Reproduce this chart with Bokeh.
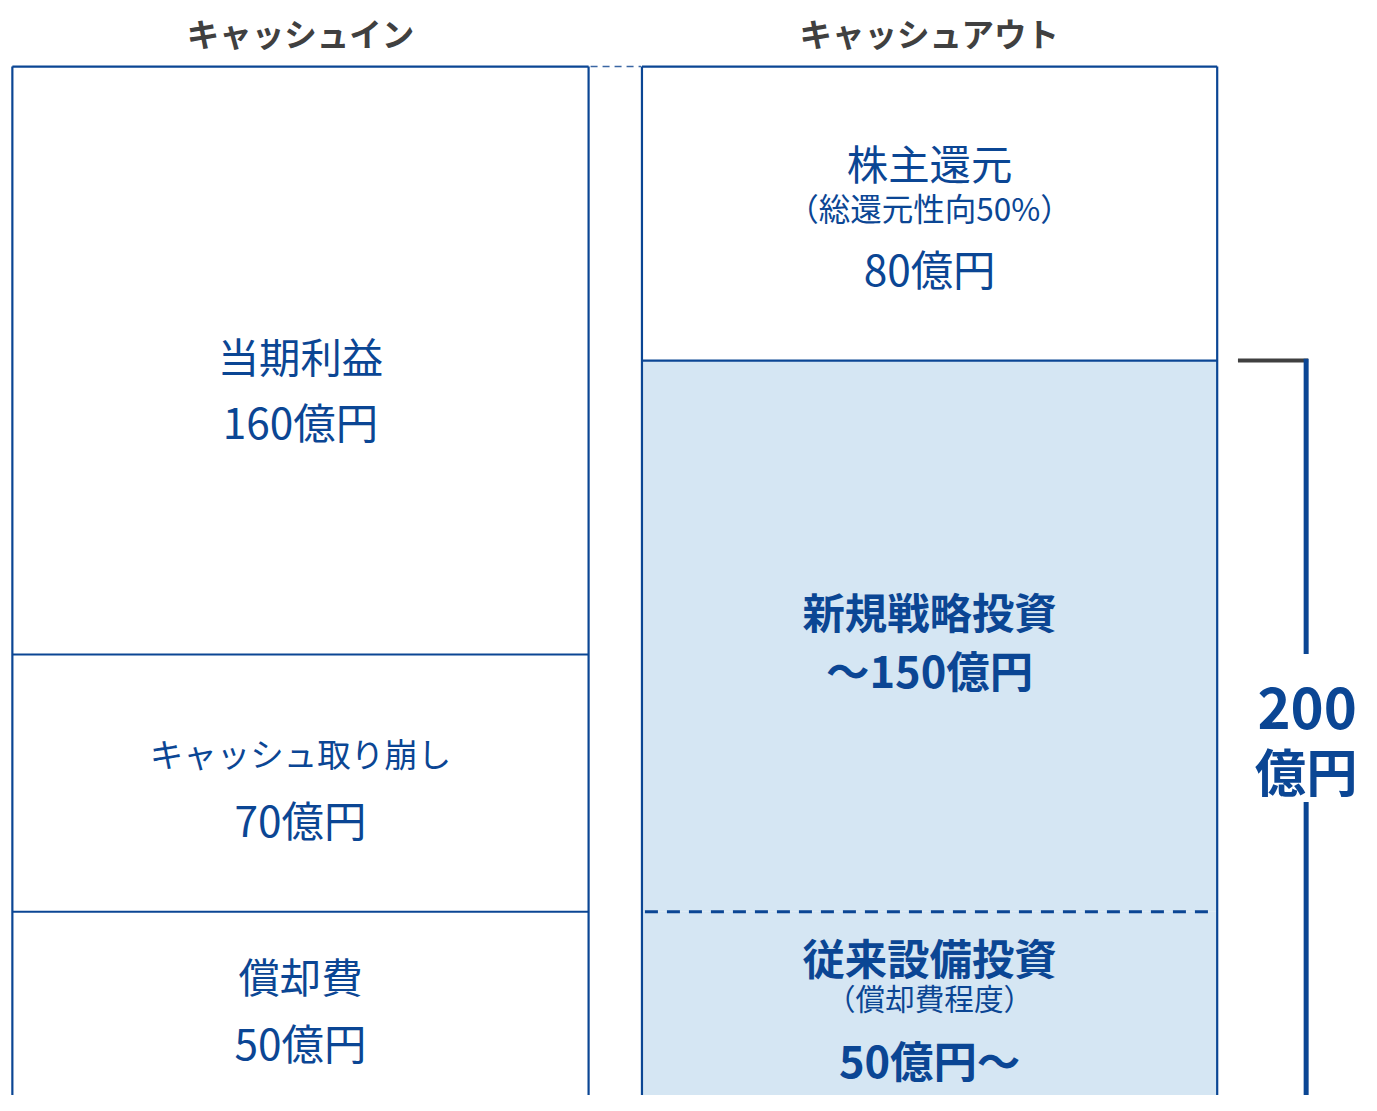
from bokeh.plotting import figure
from bokeh.models import Range1d
from bokeh.embed import file_html
from bokeh.resources import INLINE
from bokeh.core.properties import value

# ---- data ----
in_labels = ["当期利益", "キャッシュ取り崩し", "償却費"]
in_values = [160, 70, 50]
in_amounts = ["160億円", "70億円", "50億円"]

out_labels = ["株主還元", "新規戦略投資", "従来設備投資"]
out_notes = ["（総還元性向50%）", "", "（償却費程度）"]
out_values = [80, 150, 50]
out_amounts = ["80億円", "～150億円", "50億円～"]

headers = ["キャッシュイン", "キャッシュアウト"]
bracket_total = ["200", "億円"]

BLUE = "#0b4694"
FILL = "#d5e6f3"
GRAY = "#404040"
FONT = value("Noto Sans CJK JP")

W, H = 1361, 1095          # figure size (fits the window with its margins)
RW, RH = 1377, 1111        # reference canvas mapped onto the figure
k = H / RH                 # font scaling

def fs(px):
    return f"{px * k:.1f}px"

total = sum(in_values)
s = (RH - 67) / total      # reference pixels per unit
y_top = total + 67 / s

p = figure(width=W, height=H, output_backend="svg", toolbar_location=None,
           x_range=Range1d(0, RW), y_range=Range1d(0, y_top),
           min_border=0, outline_line_color=None)
p.axis.visible = False
p.grid.visible = False
p.background_fill_color = "white"

def py(off):
    """reference-pixel offset (down positive) -> data units"""
    return -off / s

LX0, LX1 = 12, 595
RX0, RX1 = 649, 1231
LC = (LX0 + LX1) / 2
RC = (RX0 + RX1) / 2

def stack(vals):
    tops, bots = [], []
    cur = sum(vals)
    for v in vals:
        tops.append(cur)
        bots.append(cur - v)
        cur -= v
    return tops, bots

lt, lb = stack(in_values)
rt, rb = stack(out_values)

# fills
p.quad(left=[LX0]*3, right=[LX1]*3, top=lt, bottom=lb, fill_color="white", line_color=None)
fills = ["white", FILL, FILL]
p.quad(left=[RX0]*3, right=[RX1]*3, top=rt, bottom=rb, fill_color=fills, line_color=None)

# borders
p.segment(x0=[LX0, LX1, RX0, RX1], y0=[0]*4, x1=[LX0, LX1, RX0, RX1],
          y1=[lt[0], lt[0], rt[0], rt[0]], line_color=BLUE, line_width=2.2)
p.segment(x0=[LX0]*3, y0=lt, x1=[LX1]*3, y1=lt, line_color=BLUE, line_width=2.2)
p.segment(x0=[RX0]*2, y0=rt[:2], x1=[RX1]*2, y1=rt[:2], line_color=BLUE, line_width=2.2)
p.segment(x0=[RX0 + 3], y0=[rt[2]], x1=[RX1 - 4], y1=[rt[2]], line_color=BLUE,
          line_width=3, line_dash="13 9")
# connector between stacks
p.segment(x0=[LX1 + 2], y0=[lt[0]], x1=[RX0 - 1], y1=[lt[0]], line_color="#3a66a3",
          line_width=1.5, line_dash="7 5")

# headers
p.text(x=[LC, RC], y=[lt[0] + py(-35)] * 2, text=headers, text_font=FONT,
       text_font_size=fs(33), text_font_style="bold", text_color=GRAY,
       text_align="center", text_baseline="middle")

def label(x, y, t, size, bold=False):
    p.text(x=[x], y=[y], text=[t], text_font=FONT, text_font_size=fs(size),
           text_font_style="bold" if bold else "normal", text_color=BLUE,
           text_align="center", text_baseline="middle")

# left labels
left_off = [(-6, 61), (-31, 36), (-29, 38)]
for i in range(3):
    c = (lt[i] + lb[i]) / 2
    size = 34 if len(in_labels[i]) > 6 else 42
    label(LC, c + py(left_off[i][0]), in_labels[i], size)
    label(LC, c + py(left_off[i][1]), in_amounts[i], 43)

# right labels
c0 = (rt[0] + rb[0]) / 2
label(RC, c0 + py(-52), out_labels[0], 42)
label(RC, c0 + py(-7), out_notes[0], 32)
label(RC, c0 + py(55), out_amounts[0], 43)

c1 = (rt[1] + rb[1]) / 2
label(RC, c1 + py(-26), out_labels[1], 43, True)
label(RC, c1 + py(33), out_amounts[1], 44, True)

c2 = (rt[2] + rb[2]) / 2
label(RC, c2 + py(-48), out_labels[2], 43, True)
label(RC, c2 + py(-6), out_notes[2], 30)
label(RC, c2 + py(56), out_amounts[2], 44, True)

# bracket for investment total
inv_top = rt[1]
inv_mid = inv_top / 2
BX = 1321
p.segment(x0=[1252], y0=[inv_top], x1=[BX + 2], y1=[inv_top], line_color=GRAY, line_width=4)
gap = 75 / s
p.segment(x0=[BX, BX], y0=[inv_top + 0.5, inv_mid - gap], x1=[BX, BX], y1=[inv_mid + gap, 0],
          line_color=BLUE, line_width=5)
label(BX + 1, inv_mid + py(-20), bracket_total[0], 57, True)
label(BX, inv_mid + py(42), bracket_total[1], 52, True)

open("out.html", "w").write(file_html(p, INLINE))
